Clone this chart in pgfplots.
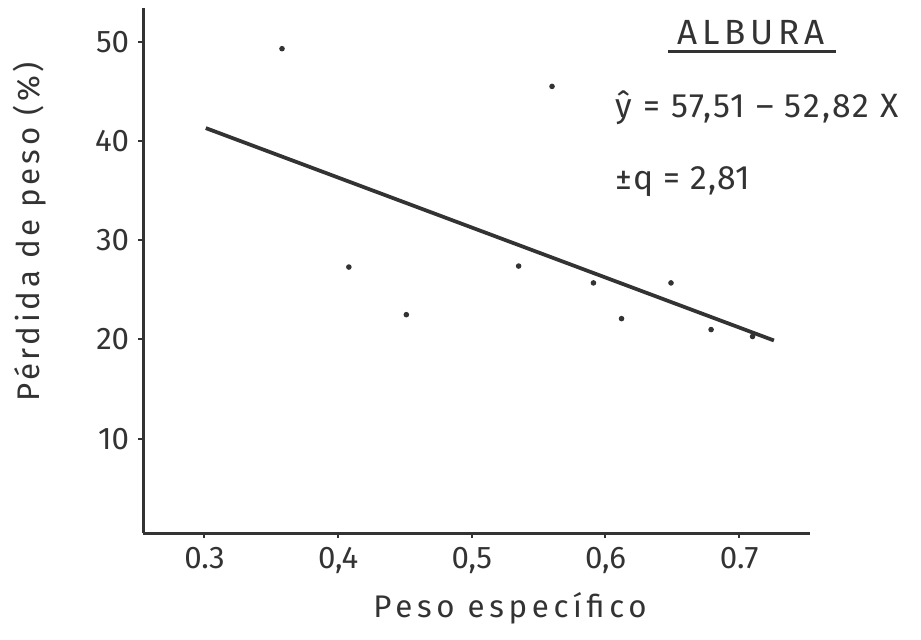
\documentclass[border=0pt]{standalone}
\usepackage{fontspec}
\setmainfont{Fira Sans}
\usepackage{pgfplots}
\pgfplotsset{compat=1.18}
\definecolor{ink}{HTML}{333333}
\begin{document}
\begin{tikzpicture}[x=1pt,y=1pt]
\useasboundingbox (-57.2,-42.4) rectangle (311.2,213.2);
\begin{axis}[
  at={(0,0)}, anchor=south west,
  scale only axis, width=266.8pt, height=210pt,
  xmin=0.254, xmax=0.753, ymin=0.5, ymax=53.4,
  axis lines*=left,
  axis line style={ink, line width=1.2pt},
  xtick={0.3,0.4,0.5,0.6,0.7},
  xticklabels={0.3,{0,4},{0,5},{0,6},0.7},
  ytick={10,20,30,40,50},
  tick align=outside, major tick length=2pt,
  tick style={ink, line width=0.8pt},
  tick label style={font=\fontsize{12.5}{14}\selectfont, text=ink},
  /pgf/number format/assume math mode=true,
  clip=false,
]
\addplot[ink, line width=1.5pt] coordinates {(0.301,41.3) (0.726,19.9)};
\addplot[only marks, mark=*, mark size=0.9pt, ink] coordinates {
  (0.358,49.3) (0.560,45.5) (0.408,27.3) (0.451,22.5) (0.535,27.4)
  (0.591,25.7) (0.612,22.1) (0.649,25.7) (0.679,21.0) (0.710,20.3)
};
\end{axis}
\node[text=ink, font=\fontsize{14}{16}\selectfont\addfontfeatures{LetterSpace=14}] at (243.2,200) {ALBURA};
\draw[ink, line width=1.2pt] (210,192.5) -- (277.2,192.5);
\node[text=ink, anchor=west, font=\fontsize{13.5}{15}\selectfont\addfontfeatures{LetterSpace=6}] at (185.5,170) {ŷ = 57,51 – 52,82 X};
\node[text=ink, anchor=west, font=\fontsize{13.5}{15}\selectfont\addfontfeatures{LetterSpace=3}] at (185.5,140.4) {±q = 2,81};
\node[text=ink, font=\fontsize{12.5}{14}\selectfont\addfontfeatures{LetterSpace=15}] at (146.8,-30) {Peso específico};
\node[text=ink, rotate=90, font=\fontsize{12.5}{14}\selectfont\addfontfeatures{LetterSpace=12}] at (-45.2,120.4) {Pérdida de peso (\%)};
\end{tikzpicture}
\end{document}
